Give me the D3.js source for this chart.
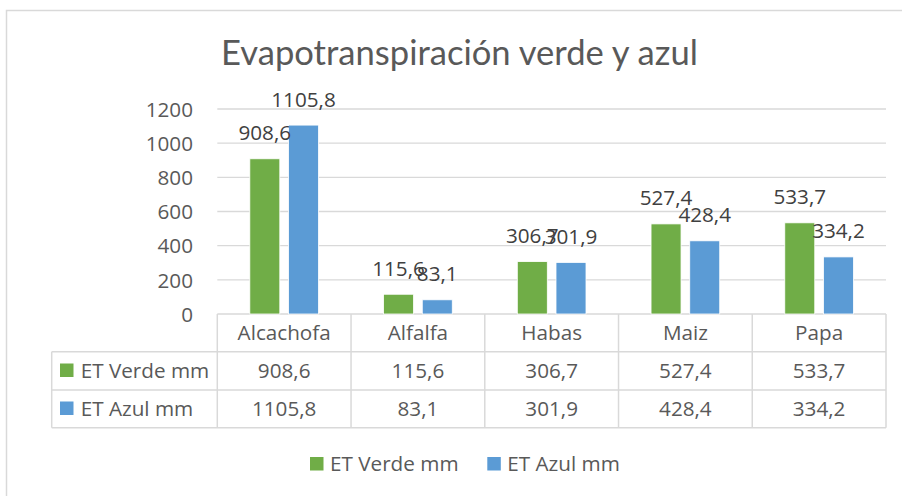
<!DOCTYPE html>
<html>
<head>
<meta charset="utf-8">
<script src="https://cdn.jsdelivr.net/npm/d3@7"></script>
<style>
  html, body { margin: 0; padding: 0; background: #fff; }
  svg { display: block; }
  text { font-family: "Open Sans", Lato, sans-serif; fill: #595959; }
</style>
</head>
<body>
<script>
const categories = ["Alcachofa", "Alfalfa", "Habas", "Maiz", "Papa"];
const seriesNames = ["ET Verde mm", "ET Azul mm"];
const etVerde = [908.6, 115.6, 306.7, 527.4, 533.7];
const etAzul = [1105.8, 83.1, 301.9, 428.4, 334.2];
const yTicks = [0, 200, 400, 600, 800, 1000, 1200];
const titleText = "Evapotranspiración verde y azul";
const colors = ["#70AD47", "#5B9BD5"];

const fmt = v => v.toFixed(1).replace(".", ",");
const W = 902, H = 496;
const grid = "#d9d9d9";

const svg = d3.select("body").append("svg").attr("width", W).attr("height", H);

// base font size fitted so that a legend label has the reference width
const probe = svg.append("text").style("font-size", "20px").text(seriesNames[0]);
const fs = 20 * 128.6 / probe.node().getComputedTextLength();
probe.remove();
const FS = fs + "px";

// chart frame
svg.append("rect").attr("x", 6.5).attr("y", 10.5).attr("width", 1000).attr("height", 1000)
  .attr("fill", "none").attr("stroke", grid).attr("stroke-width", 1.5);

function fitWidth(node, target) {
  const w = node.getComputedTextLength();
  const f = parseFloat(node.style.fontSize);
  node.style.fontSize = (f * target / w) + "px";
}

// title
svg.append("text").attr("x", 459.5).attr("y", 65).attr("text-anchor", "middle")
  .style("font-family", "Lato, sans-serif")
  .style("font-size", "30px").text(titleText)
  .each(function() { fitWidth(this, 477); });

const left = 217.3, right = 886, y0 = 314, yTop = 109;
const x = d3.scaleBand().domain(categories).range([left, right]).paddingInner(0).paddingOuter(0);
const xs = d3.scaleBand().domain(seriesNames).range([0, 68.7]).paddingInner(0.225).paddingOuter(0);
const y = d3.scaleLinear().domain([0, 1200]).range([y0, yTop]);

// gridlines
svg.append("g").selectAll("line").data(yTicks).join("line")
  .attr("x1", left).attr("x2", right)
  .attr("y1", d => y(d)).attr("y2", d => y(d))
  .attr("stroke", grid).attr("stroke-width", 1.3);

// y axis labels
const yAxis = d3.axisLeft(y).tickValues(yTicks).tickSize(0).tickPadding(0).tickFormat(d3.format("d"));
const ya = svg.append("g").attr("transform", "translate(193,0)").call(yAxis);
ya.select(".domain").remove();
ya.selectAll("text").attr("dy", "0.35em").style("font-family", "'Open Sans', sans-serif")
  .style("font-size", FS).attr("fill", "#595959");

const series = [etVerde, etAzul];
const barData = [];
categories.forEach((c, i) => series.forEach((s, j) => barData.push({ c, s: seriesNames[j], v: s[i], j })));

const groupOffset = (x.bandwidth() - xs.range()[1]) / 2;

svg.append("g").selectAll("rect").data(barData).join("rect")
  .attr("x", d => x(d.c) + groupOffset + xs(d.s))
  .attr("y", d => y(d.v))
  .attr("width", xs.bandwidth())
  .attr("height", d => y0 - y(d.v))
  .attr("fill", d => colors[d.j])
  .attr("stroke", "#ffffff").attr("stroke-width", 0.8);

// data labels
svg.append("g").selectAll("text").data(barData).join("text")
  .attr("x", d => x(d.c) + groupOffset + xs(d.s) + xs.bandwidth() / 2)
  .attr("y", d => y(d.v) - 18.5)
  .attr("text-anchor", "middle")
  .style("font-size", FS)
  .style("fill", "#404040")
  .text(d => fmt(d.v));

// data table
const rowY = [314, 351.7, 390, 427.7];
const tableLeft = 51.7;
const tg = svg.append("g");
[1, 2, 3].forEach(k => {
  tg.append("line").attr("x1", tableLeft).attr("x2", right).attr("y1", rowY[k]).attr("y2", rowY[k]);
});
const vx = categories.map(c => x(c)).concat([right]);
tg.selectAll("line.v").data(vx).join("line").attr("class", "v")
  .attr("x1", d => d).attr("x2", d => d).attr("y1", rowY[0]).attr("y2", rowY[3]);
tg.append("line").attr("x1", tableLeft).attr("x2", tableLeft).attr("y1", rowY[1]).attr("y2", rowY[3]);
tg.selectAll("line").attr("stroke", grid).attr("stroke-width", 1.5);

// header row
tg.selectAll("text.h").data(categories).join("text").attr("class", "h")
  .attr("x", d => x(d) + x.bandwidth() / 2).attr("y", 340)
  .attr("text-anchor", "middle").style("font-size", FS).text(d => d);

// value rows
series.forEach((s, j) => {
  const by = j === 0 ? 378 : 416;
  tg.selectAll("text.r" + j).data(s).join("text").attr("class", "r" + j)
    .attr("x", (d, i) => x(categories[i]) + x.bandwidth() / 2).attr("y", by)
    .attr("text-anchor", "middle").style("font-size", FS).text(d => fmt(d));
  tg.append("rect").attr("x", 60).attr("y", by - 14.5).attr("width", 13.5).attr("height", 13.5)
    .attr("fill", colors[j]);
  tg.append("text").attr("x", 80.7).attr("y", by).style("font-size", FS).text(seriesNames[j]);
});

// bottom legend
const legX = [310, 487.3];
const lg = svg.append("g");
seriesNames.forEach((n, j) => {
  lg.append("rect").attr("x", legX[j]).attr("y", 457).attr("width", 13.5).attr("height", 13.5).attr("fill", colors[j]);
  lg.append("text").attr("x", legX[j] + 20).attr("y", 471).style("font-size", FS).text(n);
});
</script>
</body>
</html>
